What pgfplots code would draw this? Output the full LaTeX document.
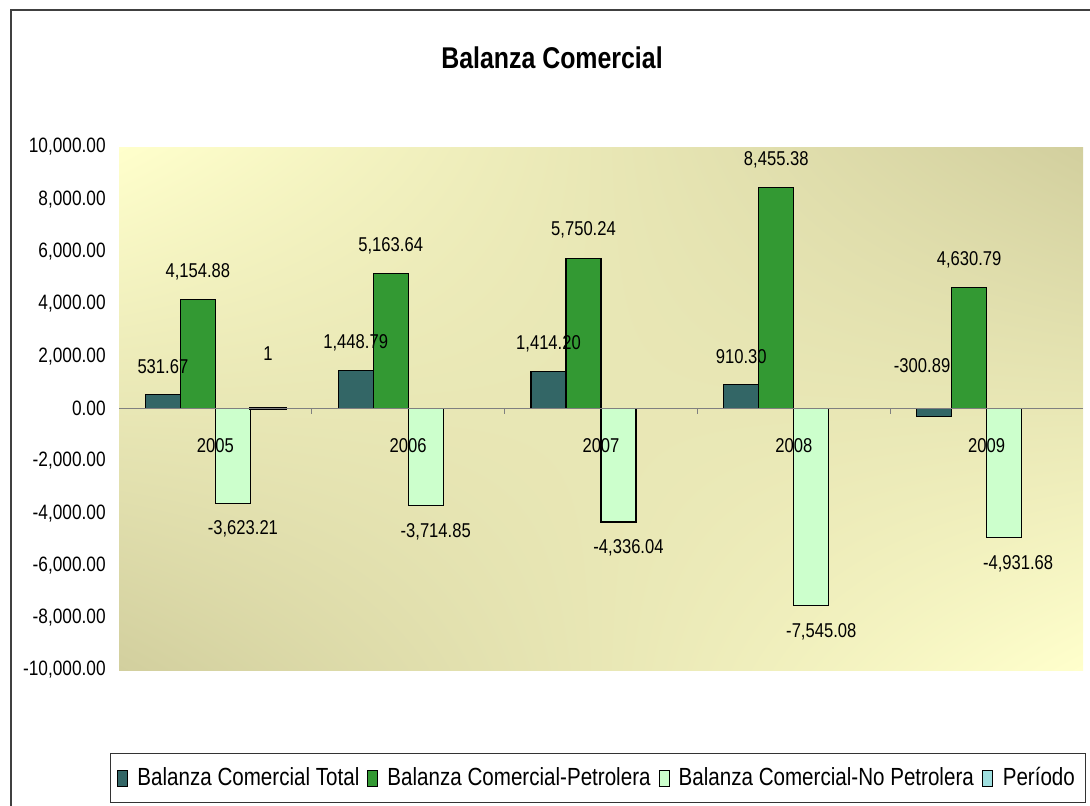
\documentclass[border=0pt]{standalone}
\usepackage{fontspec}
\setmainfont{Liberation Sans}[FakeStretch=0.83]
\usepackage{pgfplots}
\pgfplotsset{compat=1.18}
\usetikzlibrary{shadings}
\definecolor{cTot}{HTML}{336666}
\definecolor{cPet}{HTML}{339933}
\definecolor{cNoP}{HTML}{CCFFCC}
\definecolor{cPer}{HTML}{9FDFDF}
\definecolor{bgLight}{HTML}{FFFFCC}
\definecolor{bgDark}{HTML}{D2CF9E}

\pgfplotstableread{
x y dx dy lab
0 531.67 0 14 531.67
1 1448.79 0 14 1,448.79
2 1414.20 0 14 1,414.20
3 910.30 0 14 910.30
4 -300.89 -6 25.5 -300.89
}\total
\pgfplotstableread{
x y dx dy lab
0 4154.88 0 14 4,154.88
1 5163.64 0 14 5,163.64
2 5750.24 0 14 5,750.24
3 8455.38 0 14 8,455.38
4 4630.79 0 14 4,630.79
}\petro
\pgfplotstableread{
x y dx dy lab
0 -3623.21 5 -13 -3,623.21
1 -3714.85 5 -13 -3,714.85
2 -4336.04 5 -13 -4,336.04
3 -7545.08 5 -13 -7,545.08
4 -4931.68 7 -13 -4,931.68
}\nopetro
\pgfplotstableread{
x y dx dy lab
0 1 0 27.5 1
}\periodo

\begin{document}
\begin{tikzpicture}
\useasboundingbox (0,0) rectangle (545pt,-402.5pt);
\draw[line width=0.8pt, black!75] (5.5pt,-5pt) rectangle (560pt,-420pt);
\node[font=\bfseries\fontsize{15}{18}\selectfont] at (276pt,-29pt) {Balanza Comercial};
\begin{axis}[
    at={(59.5pt,-335pt)}, anchor=south west,
    width=482pt, height=261.5pt, scale only axis,
    xmin=-0.5, xmax=4.5, ymin=-10000, ymax=10000,
    scaled y ticks=false,
    ybar=0pt, bar width=17.5pt,
    legend image code/.code={\draw[#1, draw=black, line width=0.5pt] (0pt,-4pt) rectangle (5pt,4pt); \path (7.5pt,0pt);},
    axis background/.style={shade, upper left=bgLight, upper right=bgDark, lower left=bgDark, lower right=bgLight},
    axis on top,
    axis x line=middle, axis y line=left,
    every inner x axis line/.append style={-},
    x axis line style={-, draw=gray, line width=0.5pt},
    y axis line style={draw=none},
    hide obscured x ticks=false, hide obscured y ticks=false,
    xtick={0,1,2,3,4}, xticklabels={2005,2006,2007,2008,2009},
    xtick style={draw=none},
    extra x ticks={0.5,1.5,2.5,3.5}, extra x tick labels={},
    extra x tick style={xtick style={draw=gray, line width=0.5pt}, tick align=outside, major tick length=2.5pt},
    xticklabel style={anchor=center, yshift=-16.5pt, font=\fontsize{10}{12}\selectfont},
    ytick={-10000,-8000,-6000,-4000,-2000,0,2000,4000,6000,8000,10000},
    yticklabels={{-10,000.00},{-8,000.00},{-6,000.00},{-4,000.00},{-2,000.00},{0.00},{2,000.00},{4,000.00},{6,000.00},{8,000.00},{10,000.00}},
    ytick style={draw=none},
    yticklabel style={anchor=east, xshift=-1pt, font=\fontsize{10.4}{12}\selectfont},
    nodes near coords,
    point meta=explicit symbolic,
    visualization depends on={\thisrow{dy} \as \dy},
    visualization depends on={\thisrow{dx} \as \dx},
    every node near coord/.append style={anchor=center, xshift=\dx pt, yshift=\dy pt, font=\fontsize{10}{12}\selectfont, text=black},
    legend style={at={(0.497,-0.2065)}, anchor=center, legend columns=4, draw=black!80, line width=0.5pt,
        font=\fontsize{12.4}{15}\selectfont, inner xsep=3.5pt, inner ysep=5pt,
        /tikz/every even column/.append style={column sep=2pt}},
]
\addplot[fill=cTot, draw=black, line width=0.6pt] table[x=x, y=y, meta=lab] {\total};
\addlegendentry{Balanza Comercial Total}
\addplot[fill=cPet, draw=black, line width=0.6pt] table[x=x, y=y, meta=lab] {\petro};
\addlegendentry{Balanza Comercial-Petrolera}
\addplot[fill=cNoP, draw=black, line width=0.6pt] table[x=x, y=y, meta=lab] {\nopetro};
\addlegendentry{Balanza Comercial-No Petrolera}
\addplot[fill=cPer, draw=black, line width=1.4pt] table[x=x, y=y, meta=lab] {\periodo};
\addlegendentry{Período}
\end{axis}
\end{tikzpicture}
\end{document}
